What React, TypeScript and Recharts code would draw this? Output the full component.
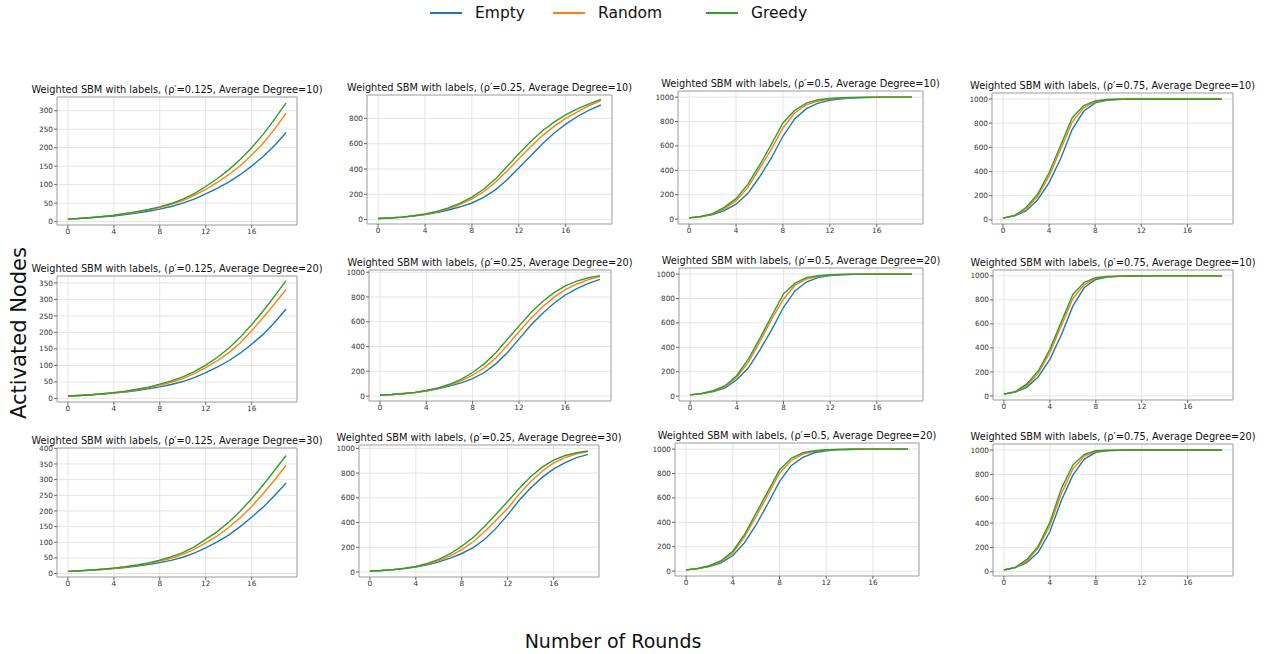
import React from 'react';
import { LineChart, Line, XAxis, YAxis, CartesianGrid, ReferenceArea } from 'recharts';

const rounds = [0, 1, 2, 3, 4, 5, 6, 7, 8, 9, 10, 11, 12, 13, 14, 15, 16, 17, 18, 19];
const xTicks = [0, 4, 8, 12, 16];

// rho' = 0.125
const emptyP125D10 = [7, 8.5, 10.5, 13, 15.5, 19, 23, 28, 34, 41, 50, 61, 75, 90, 107, 127, 150, 176, 206, 241];
const randomP125D10 = [7, 8.7, 11, 13.8, 17, 21, 26, 32, 38, 47, 57, 71, 87, 106, 127, 151, 180, 212, 250, 293];
const greedyP125D10 = [7, 8.8, 11.2, 14, 17.5, 22, 27, 33, 40, 49, 61, 76, 95, 116, 140, 168, 200, 236, 277, 321];

const emptyP125D20 = [7, 8.5, 10.5, 13, 16, 19.5, 24, 29, 35, 42, 51, 63, 78, 95, 114, 137, 164, 194, 230, 271];
const randomP125D20 = [7, 8.7, 11, 13.8, 17, 21, 26, 32, 40, 49, 60, 75, 93, 114, 138, 168, 205, 245, 287, 330];
const greedyP125D20 = [7, 8.8, 11.2, 14, 17.5, 22, 27.5, 34, 43, 53, 65, 81, 101, 124, 152, 185, 223, 265, 310, 357];

const emptyP125D30 = [7, 8.5, 10.5, 13, 16, 19.5, 24, 29, 35, 42, 52, 65, 82, 101, 123, 150, 180, 212, 249, 289];
const randomP125D30 = [7, 8.7, 11, 13.8, 17, 21, 26, 32, 40, 49, 61, 77, 98, 120, 147, 178, 214, 255, 299, 346];
const greedyP125D30 = [7, 8.8, 11.2, 14, 17.5, 22, 27.5, 34, 43, 54, 67, 85, 109, 134, 164, 199, 239, 283, 330, 377];

// rho' = 0.25
const emptyP25D10 = [8, 12, 18, 27, 39, 55, 76, 101, 131, 175, 235, 315, 407, 503, 597, 682, 755, 815, 865, 906];
const randomP25D10 = [8, 12, 19, 29, 42, 61, 87, 120, 163, 220, 295, 385, 480, 575, 662, 737, 800, 852, 900, 940];
const greedyP25D10 = [8, 12, 19, 30, 44, 65, 93, 130, 178, 240, 320, 420, 520, 615, 700, 770, 828, 875, 915, 950];

const emptyP25D20 = [8, 12, 19, 28, 41, 58, 80, 107, 140, 190, 260, 350, 460, 570, 665, 748, 816, 868, 910, 943];
const randomP25D20 = [8, 12, 19, 29, 43, 63, 89, 122, 168, 228, 308, 410, 519, 625, 718, 797, 860, 905, 940, 965];
const greedyP25D20 = [8, 12, 20, 30, 45, 66, 95, 135, 190, 260, 350, 458, 565, 670, 760, 833, 890, 928, 955, 973];

const emptyP25D30 = [8, 12, 19, 28, 41, 58, 82, 112, 150, 198, 265, 355, 462, 580, 680, 765, 834, 885, 925, 951];
const randomP25D30 = [8, 12, 20, 30, 44, 64, 92, 130, 182, 245, 327, 420, 516, 630, 730, 815, 883, 925, 955, 973];
const greedyP25D30 = [8, 13, 20, 31, 46, 70, 102, 148, 209, 280, 370, 470, 571, 675, 770, 848, 905, 942, 964, 978];

// rho' = 0.5
const emptyP5D10 = [10, 19, 38, 70, 122, 209, 345, 497, 679, 821, 905, 951, 973, 986, 992, 996, 998, 999, 1000, 1000];
const randomP5D10 = [10, 21, 42, 84, 149, 258, 413, 571, 747, 870, 937, 967, 984, 991, 996, 998, 999, 1000, 1000, 1000];
const greedyP5D10 = [10, 22, 45, 96, 168, 285, 440, 611, 788, 891, 951, 978, 989, 995, 998, 999, 1000, 1000, 1000, 1000];

const emptyP5D20 = [10, 20, 38, 68, 134, 232, 381, 545, 728, 864, 937, 973, 989, 995, 998, 999, 1000, 1000, 1000, 1000];
const randomP5D20 = [10, 21, 42, 78, 155, 278, 450, 632, 796, 910, 962, 981, 993, 997, 999, 1000, 1000, 1000, 1000, 1000];
const greedyP5D20 = [10, 22, 44, 85, 169, 305, 477, 659, 837, 926, 973, 986, 995, 998, 999, 1000, 1000, 1000, 1000, 1000];

const emptyP5D20b = [10, 20, 38, 68, 128, 231, 380, 552, 734, 864, 932, 970, 986, 994, 997, 999, 1000, 1000, 1000, 1000];
const randomP5D20b = [10, 21, 42, 78, 149, 280, 448, 625, 802, 905, 959, 982, 993, 997, 999, 1000, 1000, 1000, 1000, 1000];
const greedyP5D20b = [10, 22, 44, 85, 163, 299, 476, 652, 829, 924, 970, 987, 995, 998, 999, 1000, 1000, 1000, 1000, 1000];

// rho' = 0.75
const emptyP75D10 = [15, 33, 74, 165, 308, 505, 747, 898, 967, 989, 995, 998, 999, 1000, 1000, 1000, 1000, 1000, 1000, 1000];
const randomP75D10 = [15, 35, 88, 192, 363, 582, 808, 926, 978, 993, 997, 999, 1000, 1000, 1000, 1000, 1000, 1000, 1000, 1000];
const greedyP75D10 = [15, 36, 102, 212, 390, 615, 843, 945, 984, 995, 998, 999, 1000, 1000, 1000, 1000, 1000, 1000, 1000, 1000];

const emptyP75D10b = [15, 33, 72, 160, 305, 507, 748, 903, 970, 990, 996, 998, 999, 1000, 1000, 1000, 1000, 1000, 1000, 1000];
const randomP75D10b = [15, 35, 86, 190, 360, 585, 810, 928, 979, 993, 997, 999, 1000, 1000, 1000, 1000, 1000, 1000, 1000, 1000];
const greedyP75D10b = [15, 36, 100, 210, 388, 617, 845, 946, 985, 995, 998, 999, 1000, 1000, 1000, 1000, 1000, 1000, 1000, 1000];

const emptyP75D20 = [15, 35, 75, 163, 329, 586, 793, 925, 981, 994, 998, 999, 1000, 1000, 1000, 1000, 1000, 1000, 1000, 1000];
const randomP75D20 = [15, 36, 88, 199, 378, 641, 843, 950, 989, 997, 999, 1000, 1000, 1000, 1000, 1000, 1000, 1000, 1000, 1000];
const greedyP75D20 = [15, 37, 102, 213, 406, 682, 876, 964, 994, 998, 999, 1000, 1000, 1000, 1000, 1000, 1000, 1000, 1000, 1000];

const COLORS = { empty: '#1f77b4', random: '#ff7f0e', greedy: '#2ca02c' };
const FONT = '"DejaVu Sans", sans-serif';

type PanelProps = {
  title: string;
  frame: [number, number, number, number];
  yDomain: [number, number];
  yTicks: number[];
  empty: number[];
  random: number[];
  greedy: number[];
};

function Panel({ title, frame, yDomain, yTicks, empty, random, greedy }: PanelProps) {
  const yAxisW = 30;
  const xAxisH = 16;
  const mt = 6;
  const mr = 2;
  const [x0, y0, x1, y1] = frame;
  const data = rounds.map((r, i) => ({ round: r, empty: empty[i], random: random[i], greedy: greedy[i] }));
  const tick = { fontSize: 7.3, fill: '#333', fontFamily: FONT };
  return (
    <>
      <div style={{ position: 'absolute', left: x0 - yAxisW, top: y0 - mt }}>
        <LineChart
          width={x1 - x0 + yAxisW + mr}
          height={y1 - y0 + mt + xAxisH}
          data={data}
          margin={{ top: mt, right: mr, left: 0, bottom: 0 }}
        >
          <CartesianGrid stroke="#dddddd" strokeWidth={0.8} />
          <XAxis
            dataKey="round"
            type="number"
            domain={[-0.95, 19.95]}
            ticks={xTicks}
            interval={0}
            height={xAxisH}
            tick={tick}
            tickSize={3}
            tickMargin={1}
            axisLine={false}
            tickLine={{ stroke: '#666' }}
          />
          <YAxis
            type="number"
            domain={yDomain}
            ticks={yTicks}
            interval={0}
            width={yAxisW}
            tick={tick}
            tickSize={3}
            tickMargin={1}
            axisLine={false}
            tickLine={{ stroke: '#666' }}
            allowDataOverflow
          />
          <Line type="linear" dataKey="empty" stroke={COLORS.empty} strokeWidth={1.4} dot={false} isAnimationActive={false} />
          <Line type="linear" dataKey="random" stroke={COLORS.random} strokeWidth={1.4} dot={false} isAnimationActive={false} />
          <Line type="linear" dataKey="greedy" stroke={COLORS.greedy} strokeWidth={1.4} dot={false} isAnimationActive={false} />
          <ReferenceArea x1={-0.95} x2={19.95} y1={yDomain[0]} y2={yDomain[1]} fill="none" stroke="#a8a8a8" strokeWidth={1} />
        </LineChart>
      </div>
      <div
        style={{
          position: 'absolute',
          left: (x0 + x1) / 2 - 200,
          width: 400,
          top: y0 - 13,
          height: 12,
          lineHeight: '12px',
          textAlign: 'center',
          fontSize: 9.8,
          fontFamily: FONT,
          color: '#111',
          whiteSpace: 'nowrap',
          pointerEvents: 'none',
        }}
      >
        {title}
      </div>
    </>
  );
}

const t = (p: string, d: number) => `Weighted SBM with labels, (ρ′=${p}, Average Degree=${d})`;
const ticks125a = [0, 50, 100, 150, 200, 250, 300];
const ticks125b = [0, 50, 100, 150, 200, 250, 300, 350];
const ticks125c = [0, 50, 100, 150, 200, 250, 300, 350, 400];
const ticks800 = [0, 200, 400, 600, 800];
const ticks1000 = [0, 200, 400, 600, 800, 1000];

const legendItems = [
  { label: 'Empty', color: COLORS.empty, x: 430 },
  { label: 'Random', color: COLORS.random, x: 553 },
  { label: 'Greedy', color: COLORS.greedy, x: 706 },
];

export default function App() {
  return (
    <div style={{ position: 'absolute', left: 0, top: 0, width: 1275, height: 654, background: '#fff', fontFamily: FONT }}>
      {legendItems.map((it) => (
        <div key={it.label} style={{ position: 'absolute', left: it.x, top: 3, height: 20, display: 'flex', alignItems: 'center' }}>
          <svg width={32} height={4} style={{ display: 'block' }}>
            <line x1={0} y1={2} x2={32} y2={2} stroke={it.color} strokeWidth={2} />
          </svg>
          <span style={{ marginLeft: 13, fontSize: 15.5, color: '#111', lineHeight: '20px' }}>{it.label}</span>
        </div>
      ))}

      <Panel title={t('0.125', 10)} frame={[57, 97, 297, 225]} yDomain={[-9, 337]} yTicks={ticks125a} empty={emptyP125D10} random={randomP125D10} greedy={greedyP125D10} />
      <Panel title={t('0.25', 10)} frame={[367, 95, 612, 224]} yDomain={[-35, 985]} yTicks={ticks800} empty={emptyP25D10} random={randomP25D10} greedy={greedyP25D10} />
      <Panel title={t('0.5', 10)} frame={[678, 91, 923, 224]} yDomain={[-40, 1050]} yTicks={ticks1000} empty={emptyP5D10} random={randomP5D10} greedy={greedyP5D10} />
      <Panel title={t('0.75', 10)} frame={[992, 93, 1233, 224]} yDomain={[-34, 1049]} yTicks={ticks1000} empty={emptyP75D10} random={randomP75D10} greedy={greedyP75D10} />

      <Panel title={t('0.125', 20)} frame={[57, 276, 297, 402]} yDomain={[-11, 371]} yTicks={ticks125b} empty={emptyP125D20} random={randomP125D20} greedy={greedyP125D20} />
      <Panel title={t('0.25', 20)} frame={[369, 270, 611, 401]} yDomain={[-40, 1018]} yTicks={ticks1000} empty={emptyP25D20} random={randomP25D20} greedy={greedyP25D20} />
      <Panel title={t('0.5', 20)} frame={[679, 268, 923, 401]} yDomain={[-40, 1050]} yTicks={ticks1000} empty={emptyP5D20} random={randomP5D20} greedy={greedyP5D20} />
      <Panel title={t('0.75', 10)} frame={[993, 270, 1233, 400]} yDomain={[-34, 1049]} yTicks={ticks1000} empty={emptyP75D10b} random={randomP75D10b} greedy={greedyP75D10b} />

      <Panel title={t('0.125', 30)} frame={[57, 448, 297, 577]} yDomain={[-11, 401]} yTicks={ticks125c} empty={emptyP125D30} random={randomP125D30} greedy={greedyP125D30} />
      <Panel title={t('0.25', 30)} frame={[359, 445, 599, 577]} yDomain={[-40, 1027]} yTicks={ticks1000} empty={emptyP25D30} random={randomP25D30} greedy={greedyP25D30} />
      <Panel title={t('0.5', 20)} frame={[675, 443, 919, 576]} yDomain={[-40, 1050]} yTicks={ticks1000} empty={emptyP5D20b} random={randomP5D20b} greedy={greedyP5D20b} />
      <Panel title={t('0.75', 20)} frame={[993, 444, 1233, 576]} yDomain={[-34, 1049]} yTicks={ticks1000} empty={emptyP75D20} random={randomP75D20} greedy={greedyP75D20} />

      <div
        style={{
          position: 'absolute',
          left: 19 - 100,
          top: 333 - 15,
          width: 200,
          height: 30,
          lineHeight: '30px',
          textAlign: 'center',
          fontSize: 21,
          color: '#111',
          transform: 'rotate(-90deg)',
          whiteSpace: 'nowrap',
        }}
      >
        Activated Nodes
      </div>
      <div
        style={{
          position: 'absolute',
          left: 613 - 150,
          top: 641 - 13,
          width: 300,
          height: 26,
          lineHeight: '26px',
          textAlign: 'center',
          fontSize: 19,
          color: '#111',
          whiteSpace: 'nowrap',
        }}
      >
        Number of Rounds
      </div>
    </div>
  );
}
